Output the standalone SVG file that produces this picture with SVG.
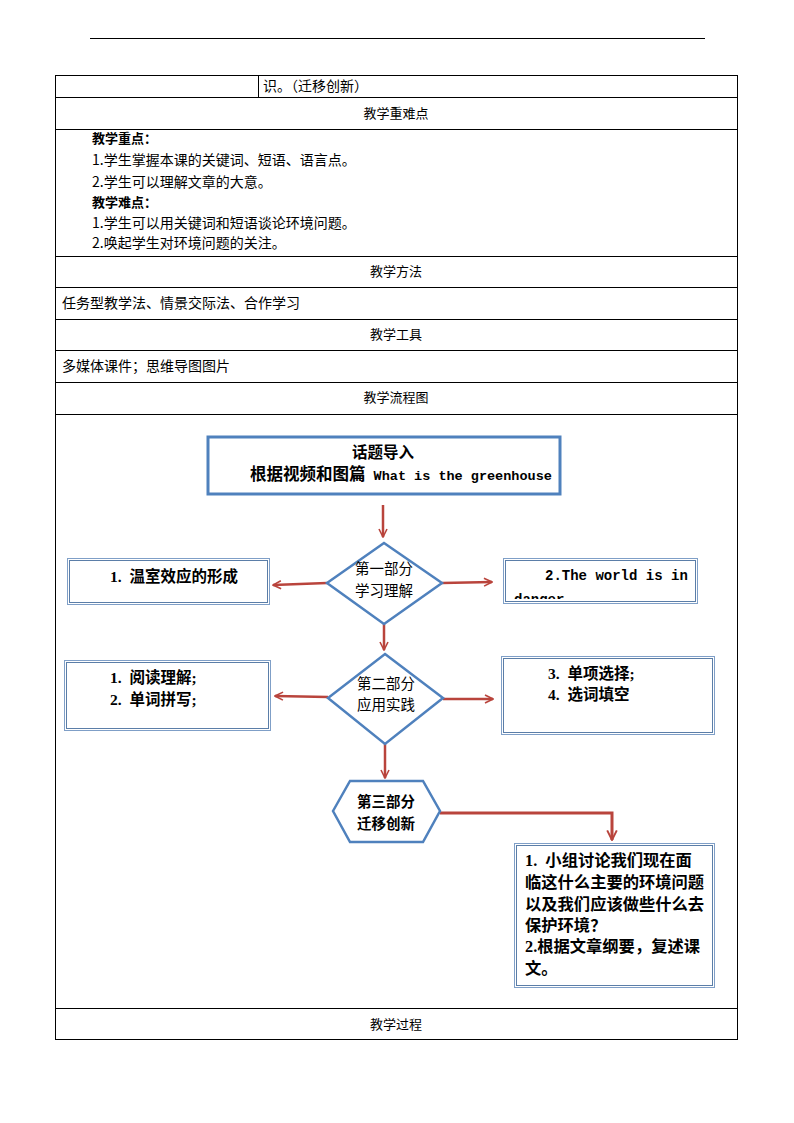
<svg xmlns="http://www.w3.org/2000/svg" width="794" height="1123" viewBox="0 0 794 1123">
<style>
text{white-space:pre}
.t{font-family:"Noto Sans CJK SC","Liberation Sans",sans-serif;font-size:14px;fill:#000}
.h{font-size:13px}
.tb{font-weight:bold}
.c{text-anchor:middle}
.grid{stroke:#000;stroke-width:1;fill:none}
.f{font-family:"Liberation Serif","Noto Sans CJK SC",serif;font-size:15.5px;font-weight:bold;fill:#000}
.fr{font-family:"Liberation Serif","Noto Sans CJK SC",serif;font-size:14.5px;fill:#000}
.m{font-family:"Liberation Mono",monospace}
.big{font-size:16.3px}
.shape{fill:#fff;stroke:#4f81bd;stroke-width:2.5}
.box1{fill:#fff;stroke:#7f9fc7;stroke-width:1}
.box2{fill:none;stroke:#5b7ea8;stroke-width:1}
.arr{stroke:#b9443c;stroke-width:2.5;fill:none}
</style>
<defs>
<marker id="ah" viewBox="0 0 10 10" refX="9" refY="5" markerWidth="4" markerHeight="4" orient="auto" markerUnits="strokeWidth">
<path d="M1,1 L9,5 L1,9" fill="none" stroke="#b9443c" stroke-width="1.6"/>
</marker>
<clipPath id="clipR"><rect x="505" y="560" width="190" height="39"/></clipPath>
</defs>
<rect width="794" height="1123" fill="#fff"/>
<line x1="90" y1="38.5" x2="705" y2="38.5" stroke="#000" stroke-width="1"/>

<g id="table">
<rect class="grid" x="55.5" y="75.5" width="682" height="964"/>
<line class="grid" x1="258.5" y1="75" x2="258.5" y2="97"/>
<line class="grid" x1="55" y1="97.5" x2="738" y2="97.5"/>
<line class="grid" x1="55" y1="129.5" x2="738" y2="129.5"/>
<line class="grid" x1="55" y1="256.5" x2="738" y2="256.5"/>
<line class="grid" x1="55" y1="287.5" x2="738" y2="287.5"/>
<line class="grid" x1="55" y1="319.5" x2="738" y2="319.5"/>
<line class="grid" x1="55" y1="350.5" x2="738" y2="350.5"/>
<line class="grid" x1="55" y1="382.5" x2="738" y2="382.5"/>
<line class="grid" x1="55" y1="414.5" x2="738" y2="414.5"/>
<line class="grid" x1="55" y1="1008.5" x2="738" y2="1008.5"/>
<text class="t" x="263" y="91">识。（迁移创新）</text>
<text class="t h c" x="396" y="118">教学重难点</text>
<text class="t h tb" x="92" y="143">教学重点：</text>
<text class="t" x="92" y="165">1.学生掌握本课的关键词、短语、语言点。</text>
<text class="t" x="92" y="187">2.学生可以理解文章的大意。</text>
<text class="t h tb" x="92" y="207">教学难点：</text>
<text class="t" x="92" y="228">1.学生可以用关键词和短语谈论环境问题。</text>
<text class="t" x="92" y="248">2.唤起学生对环境问题的关注。</text>
<text class="t h c" x="396" y="276">教学方法</text>
<text class="t" x="62" y="308">任务型教学法、情景交际法、合作学习</text>
<text class="t h c" x="396" y="339">教学工具</text>
<text class="t" x="62" y="371">多媒体课件；思维导图图片</text>
<text class="t h c" x="396" y="402">教学流程图</text>
<text class="t h c" x="396" y="1029">教学过程</text>
</g>

<g id="connectors">
<line class="arr" x1="383" y1="505" x2="383" y2="537" marker-end="url(#ah)"/>
<line class="arr" x1="327" y1="583" x2="273" y2="585" marker-end="url(#ah)"/>
<line class="arr" x1="442" y1="583" x2="492" y2="582" marker-end="url(#ah)"/>
<line class="arr" x1="384" y1="624" x2="384" y2="650" marker-end="url(#ah)"/>
<line class="arr" x1="328" y1="697" x2="275" y2="696" marker-end="url(#ah)"/>
<line class="arr" x1="443" y1="699" x2="493" y2="699" marker-end="url(#ah)"/>
<line class="arr" x1="385" y1="744" x2="385" y2="778" marker-end="url(#ah)"/>
<polyline class="arr" points="440,813 612,813 612,840" marker-end="url(#ah)" style="stroke-width:3"/>
</g>

<g id="n_intro">
<rect x="208" y="437" width="352" height="57" fill="#fff" stroke="#4f81bd" stroke-width="3"/>
<text class="f c" x="383" y="458">话题导入</text>
<text class="f" x="250" y="480" style="font-size:16.5px">根据视频和图篇<tspan class="m" style="font-size:13.5px"> What is the greenhouse</tspan></text>
</g>

<g id="n_part1">
<polygon class="shape" points="384,543 442,583 384,624 327,583"/>
<text class="fr c" x="384" y="574">第一部分</text>
<text class="fr c" x="384" y="596">学习理解</text>
</g>
<g id="n_left1">
<rect class="box1" x="67.5" y="558.5" width="202" height="46"/>
<rect class="box2" x="69.5" y="560.5" width="198" height="42"/>
<text class="f" x="110" y="582">1.  温室效应的形成</text>
</g>
<g id="n_right1">
<rect class="box1" x="503.5" y="558.5" width="194" height="45"/>
<rect class="box2" x="505.5" y="560.5" width="190" height="41"/>
<g clip-path="url(#clipR)">
<text class="f m" x="545" y="580" style="font-size:14px">2.The world is in</text>
<text class="f m" x="514" y="604" style="font-size:14px">danger</text>
</g>
</g>

<g id="n_part2">
<polygon class="shape" points="385,654 443,698 385,744 328,698"/>
<text class="fr c" x="386" y="689">第二部分</text>
<text class="fr c" x="386" y="710">应用实践</text>
</g>
<g id="n_left2">
<rect class="box1" x="64.5" y="660.5" width="206" height="70"/>
<rect class="box2" x="66.5" y="662.5" width="202" height="66"/>
<text class="f" x="110" y="683">1.  阅读理解;</text>
<text class="f" x="110" y="705">2.  单词拼写;</text>
</g>
<g id="n_right2">
<rect class="box1" x="501.5" y="656.5" width="213" height="78"/>
<rect class="box2" x="503.5" y="658.5" width="209" height="74"/>
<text class="f" x="548" y="679">3.  单项选择;</text>
<text class="f" x="548" y="700">4.  选词填空</text>
</g>

<g id="n_part3">
<polygon class="shape" points="333,811 350,781 423,781 440,811 423,842 350,842"/>
<text class="f c" x="386" y="807" style="font-size:14.5px">第三部分</text>
<text class="f c" x="386" y="829" style="font-size:14.5px">迁移创新</text>
</g>
<g id="n_task">
<rect class="box1" x="514.5" y="843.5" width="200" height="144"/>
<rect class="box2" x="516.5" y="845.5" width="196" height="140"/>
<text class="f big" x="525" y="866">1.  小组讨论我们现在面</text>
<text class="f big" x="525" y="888">临这什么主要的环境问题</text>
<text class="f big" x="525" y="910">以及我们应该做些什么去</text>
<text class="f big" x="525" y="931">保护环境？</text>
<text class="f big" x="525" y="952">2.根据文章纲要，复述课</text>
<text class="f big" x="525" y="974">文。</text>
</g>
</svg>
